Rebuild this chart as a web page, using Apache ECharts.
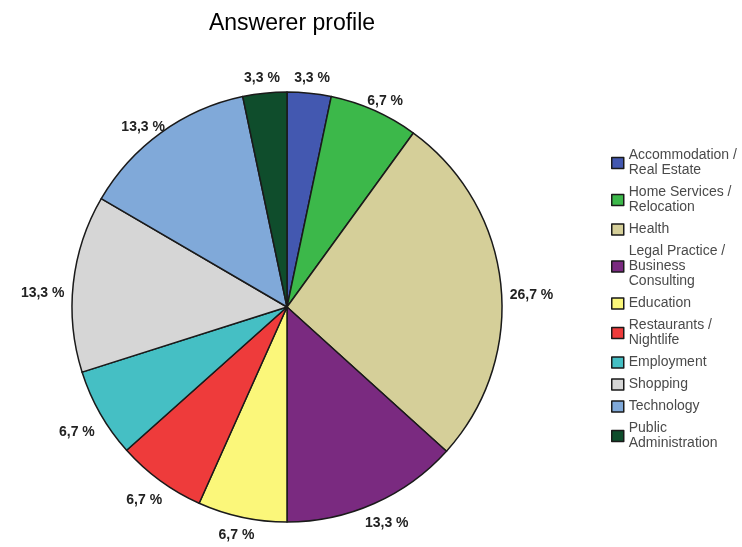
<!DOCTYPE html>
<html>
<head>
<meta charset="utf-8">
<script src="https://cdn.jsdelivr.net/npm/echarts@6/dist/echarts.min.js"></script>
<style>
  html, body { margin: 0; padding: 0; background: #fff; }
  #chart { width: 742px; height: 547px; }
</style>
</head>
<body>
<div id="chart"></div>
<script>
// Answer categories (legend text, with the wrapped line breaks) and their shares in percent
const categories = [
  'Accommodation /\nReal Estate',
  'Home Services /\nRelocation',
  'Health',
  'Legal Practice /\nBusiness\nConsulting',
  'Education',
  'Restaurants /\nNightlife',
  'Employment',
  'Shopping',
  'Technology',
  'Public\nAdministration'
];
const shares = [3.3, 6.7, 26.7, 13.3, 6.7, 6.7, 6.7, 13.3, 13.3, 3.3];
const sliceColors = [
  '#4358b0', '#3cb84a', '#d5cf99', '#7a2a80', '#fbf77a',
  '#ee3b3b', '#45bfc4', '#d6d6d6', '#80a9d9', '#0f4d2c'
];

const PIE_CENTER = [287, 307];
const PIE_RADIUS = 215;
const LABEL_GAP = 9;
const SIDE_DROP = 12;   // side labels sit a little below the slice middle

const chart = echarts.init(document.getElementById('chart'), null, { renderer: 'canvas' });

// Place each percentage label just outside the rim, its nearest side facing the slice middle
function placeLabel(p) {
  let dx, dy;
  const pts = p.labelLinePoints;
  if (pts && pts[0]) {
    dx = pts[0][0] - PIE_CENTER[0];
    dy = pts[0][1] - PIE_CENTER[1];
  } else {
    const total = shares.reduce((a, b) => a + b, 0);
    let before = 0;
    for (let i = 0; i < p.dataIndex; i++) before += shares[i];
    const ang = (90 - 360 * (before + shares[p.dataIndex] / 2) / total) * Math.PI / 180;
    dx = Math.cos(ang);
    dy = -Math.sin(ang);
  }
  const len = Math.sqrt(dx * dx + dy * dy) || 1;
  dx /= len; dy /= len;
  const hw = p.labelRect.width / 2;
  const hh = p.labelRect.height / 2;
  const rr = PIE_RADIUS + LABEL_GAP;
  return {
    x: PIE_CENTER[0] + dx * rr + dx * hw,
    y: PIE_CENTER[1] + dy * rr + dy * hh + SIDE_DROP * Math.abs(dx),
    align: 'center',
    verticalAlign: 'middle'
  };
}

chart.setOption({
  backgroundColor: '#ffffff',
  animation: false,
  title: {
    text: 'Answerer profile',
    left: 287,
    top: 7,
    textAlign: 'center',
    textStyle: {
      fontFamily: 'Liberation Sans, Arial, sans-serif',
      fontSize: 23,
      fontWeight: 'normal',
      color: '#000'
    }
  },
  legend: {
    orient: 'vertical',
    left: 611,
    top: 148,
    padding: 0,
    icon: 'rect',
    itemWidth: 12,
    itemHeight: 11,
    itemGap: 7,
    itemStyle: { borderColor: '#1a1a1a', borderWidth: 1.5 },
    textStyle: {
      fontFamily: 'Liberation Sans, Arial, sans-serif',
      fontSize: 14,
      lineHeight: 15,
      color: '#4a4a4a'
    },
    selectedMode: false,
    data: categories
  },
  series: [{
    type: 'pie',
    center: PIE_CENTER,
    radius: PIE_RADIUS,
    startAngle: 90,
    clockwise: true,
    avoidLabelOverlap: false,
    emphasis: { disabled: true },
    itemStyle: { borderColor: '#1a1a1a', borderWidth: 1.5 },
    label: {
      show: true,
      position: 'outside',
      fontFamily: 'Liberation Sans, Arial, sans-serif',
      fontSize: 14,
      fontWeight: 'bold',
      color: '#222',
      formatter: p => p.value.toFixed(1).replace('.', ',') + ' %'
    },
    labelLine: { show: true, length: 4, length2: 0, lineStyle: { opacity: 0, width: 0 } },
    labelLayout: placeLabel,
    data: categories.map((name, i) => ({
      name: name,
      value: shares[i],
      itemStyle: { color: sliceColors[i] }
    }))
  }]
});
</script>
</body>
</html>
